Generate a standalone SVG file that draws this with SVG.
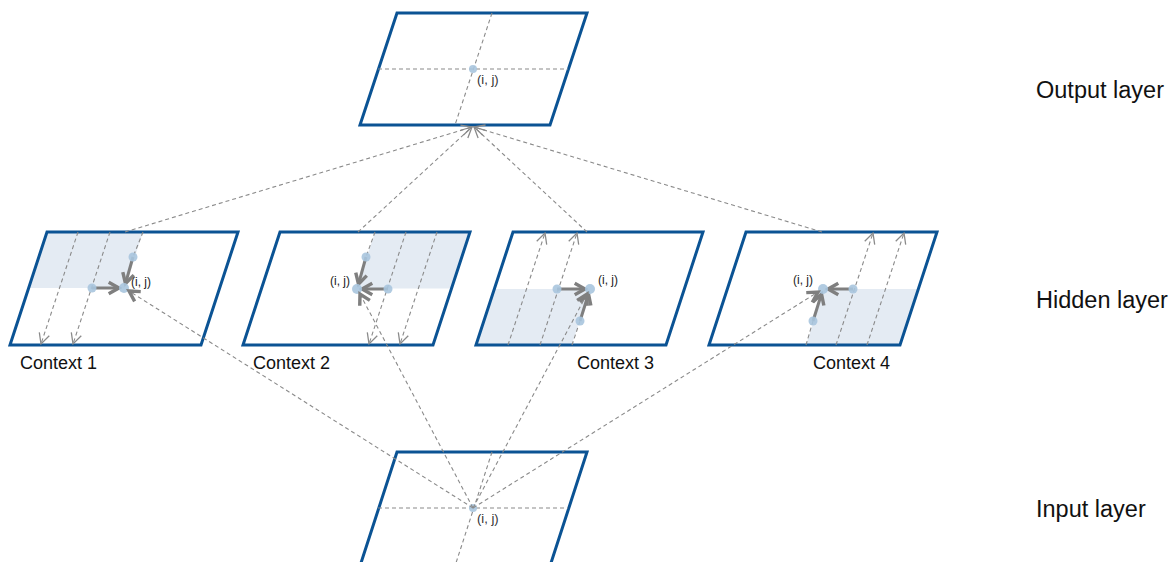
<svg xmlns="http://www.w3.org/2000/svg" width="1176" height="562" viewBox="0 0 1176 562">
<style>
.layer{fill:none;stroke:#0b5394;stroke-width:3;stroke-linejoin:miter}
.shade{fill:#e4ebf3;stroke:none}
.dash{fill:none;stroke:#8a8a8a;stroke-width:1.1;stroke-dasharray:4 3}
.thick{fill:none;stroke:#7f7f7f;stroke-width:3}
.dot{fill:#a9c5de;fill-opacity:0.9}
.lbl{font-family:"Liberation Sans",Arial,sans-serif;fill:#111}
.ij{font-family:"Liberation Sans",Arial,sans-serif;font-size:12px;fill:#222}
.ij2{font-family:"Liberation Sans",Arial,sans-serif;font-size:13px;fill:#333}
.ctx{font-size:18px}
.lay{font-size:23.5px}
</style>
<defs>
<marker id="thin" markerUnits="userSpaceOnUse" markerWidth="14" markerHeight="14" refX="10" refY="5" orient="auto" viewBox="0 0 12 10">
<polyline points="1,0.5 10,5 1,9.5" fill="none" stroke="#8a8a8a" stroke-width="1.1"/>
</marker>
<marker id="bold" markerUnits="userSpaceOnUse" markerWidth="16" markerHeight="16" refX="11" refY="6" orient="auto" viewBox="0 0 14 12">
<polyline points="2,1 11,6 2,11" fill="none" stroke="#7f7f7f" stroke-width="3" stroke-linejoin="miter"/>
</marker>
</defs>

<g id="output-layer">
<polygon class="layer" points="397,13 587,13 550,125 360,125"/>
<line class="dash" x1="492" y1="13" x2="455" y2="125"/>
<line class="dash" x1="378" y1="69" x2="568" y2="69"/>
<circle class="dot" cx="473" cy="69" r="4"/>
<text class="ij2" x="477" y="84">(i, j)</text>
</g>

<g id="context-1">
<polygon class="shade" points="47,232 143,232 124.7,288 28.7,288"/>
<polygon class="layer" points="47,232 238,232 201,345 10,345"/>
<line class="dash" x1="78" y1="232" x2="41" y2="344" marker-end="url(#thin)"/>
<line class="dash" x1="110" y1="232" x2="73" y2="344" marker-end="url(#thin)"/>
<line class="dash" x1="143" y1="232" x2="133" y2="257"/>
<line class="thick" x1="133" y1="257" x2="125.5" y2="283.5" marker-end="url(#bold)"/>
<line class="thick" x1="92" y1="288" x2="119" y2="288" marker-end="url(#bold)"/>
<circle class="dot" cx="133" cy="257" r="4.5"/>
<circle class="dot" cx="92" cy="288" r="4.5"/>
<circle class="dot" cx="124" cy="288" r="5"/>
<text class="ij" x="131" y="286">(i, j)</text>
<text class="lbl ctx" x="20" y="369">Context 1</text>
</g>

<g id="context-2">
<polygon class="shade" points="375,232 470,232 451.7,288.5 356.7,288.5"/>
<polygon class="layer" points="280,232 470,232 433,345 243,345"/>
<line class="dash" x1="375" y1="232" x2="366" y2="257"/>
<line class="dash" x1="406" y1="232" x2="369" y2="344" marker-end="url(#thin)"/>
<line class="dash" x1="437" y1="232" x2="400" y2="344" marker-end="url(#thin)"/>
<line class="thick" x1="366" y1="257" x2="358.5" y2="284" marker-end="url(#bold)"/>
<line class="thick" x1="388" y1="289" x2="362" y2="289" marker-end="url(#bold)"/>
<circle class="dot" cx="366" cy="257" r="4.5"/>
<circle class="dot" cx="388" cy="289" r="4.5"/>
<circle class="dot" cx="357" cy="289" r="5"/>
<text class="ij" x="350" y="285" text-anchor="end">(i, j)</text>
<text class="lbl ctx" x="253" y="369">Context 2</text>
</g>

<g id="context-3">
<polygon class="shade" points="495,289 590,289 571.7,345 476.7,345"/>
<polygon class="layer" points="513,232 703,232 666,345 476,345"/>
<line class="dash" x1="508" y1="345" x2="545" y2="233" marker-end="url(#thin)"/>
<line class="dash" x1="540" y1="345" x2="577" y2="233" marker-end="url(#thin)"/>
<line class="dash" x1="572" y1="345" x2="580" y2="321"/>
<line class="thick" x1="557" y1="289" x2="585" y2="289" marker-end="url(#bold)"/>
<line class="thick" x1="580" y1="321" x2="588.5" y2="294" marker-end="url(#bold)"/>
<circle class="dot" cx="557" cy="289" r="4.5"/>
<circle class="dot" cx="580" cy="321" r="4.5"/>
<circle class="dot" cx="590" cy="289" r="5"/>
<text class="ij" x="598" y="284">(i, j)</text>
<text class="lbl ctx" x="577" y="369">Context 3</text>
</g>

<g id="context-4">
<polygon class="shade" points="824.3,289 918.3,289 900,345 806,345"/>
<polygon class="layer" points="746,232 937,232 900,345 709,345"/>
<line class="dash" x1="806" y1="345" x2="813" y2="321"/>
<line class="dash" x1="836" y1="345" x2="873" y2="233" marker-end="url(#thin)"/>
<line class="dash" x1="867" y1="345" x2="904" y2="233" marker-end="url(#thin)"/>
<line class="thick" x1="853" y1="289" x2="828" y2="289" marker-end="url(#bold)"/>
<line class="thick" x1="813" y1="321" x2="821.5" y2="294" marker-end="url(#bold)"/>
<circle class="dot" cx="853" cy="289" r="4.5"/>
<circle class="dot" cx="813" cy="321" r="4.5"/>
<circle class="dot" cx="823" cy="289" r="5"/>
<text class="ij" x="813" y="284" text-anchor="end">(i, j)</text>
<text class="lbl ctx" x="813" y="369">Context 4</text>
</g>

<g id="input-layer">
<polygon class="layer" points="397,452 587,452 550,566 360,566"/>
<line class="dash" x1="492" y1="452" x2="455" y2="566"/>
<line class="dash" x1="378" y1="508" x2="568" y2="508"/>
<circle class="dot" cx="473" cy="508" r="4"/>
<text class="ij2" x="477" y="523">(i, j)</text>
</g>

<g id="connectors">
<line class="dash" x1="125" y1="232" x2="472" y2="127" marker-end="url(#thin)"/>
<line class="dash" x1="358" y1="232" x2="472" y2="127" marker-end="url(#thin)"/>
<line class="dash" x1="587" y1="232" x2="474" y2="127" marker-end="url(#thin)"/>
<line class="dash" x1="822" y1="232" x2="474" y2="127" marker-end="url(#thin)"/>
<line class="dash" x1="473" y1="508" x2="129" y2="291" marker-end="url(#bold)"/>
<line class="dash" x1="473" y1="508" x2="360" y2="294" marker-end="url(#bold)"/>
<line class="dash" x1="473" y1="508" x2="587" y2="294" marker-end="url(#bold)"/>
<line class="dash" x1="473" y1="508" x2="818" y2="292" marker-end="url(#bold)"/>
</g>

<g id="layer-labels">
<text class="lbl lay" x="1036" y="98">Output layer</text>
<text class="lbl lay" x="1036" y="308">Hidden layer</text>
<text class="lbl lay" x="1036" y="517">Input layer</text>
</g>
</svg>
